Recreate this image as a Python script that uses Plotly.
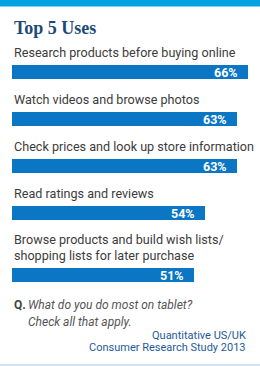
import plotly.graph_objects as go

title = "Top 5 Uses"
categories = [
    "Research products before buying online",
    "Watch videos and browse photos",
    "Check prices and look up store information",
    "Read ratings and reviews",
    "Browse products and build wish lists/<br>shopping lists for later purchase",
]
values = [66, 63, 63, 54, 51]
question_label = "Q."
question_lines = ["What do you do most on tablet?", "Check all that apply."]
source_lines = ["Quantitative US/UK", "Consumer Research Study 2013"]

W, H = 260, 366
LEFT, RIGHT = 12, 12
BAR_COLOR = "#0a76c4"
STRIP_COLOR = "#00a3e0"
TITLE_COLOR = "#1d4a78"
LABEL_COLOR = "#3c3c3c"
SRC_COLOR = "#1f5a9a"
FONT = "Roboto, Arial, sans-serif"

# layout of rows (pixel positions computed from label line counts)
first_bar_top = 65
step = 47
extra_line = 15
bar_h = 14
label_gap = 13  # label centre above bar top

bar_centers, label_centers = [], []
offset = 0
for cat in categories:
    n_lines = cat.count("<br>") + 1
    offset_lines = (n_lines - 1) * extra_line
    top = first_bar_top + offset + offset_lines
    bar_centers.append(top + bar_h / 2)
    label_centers.append(top - label_gap - offset_lines / 2)
    offset += step + offset_lines

fig = go.Figure()
fig.add_trace(go.Bar(
    x=values, y=bar_centers, orientation="h",
    width=bar_h, marker=dict(color=BAR_COLOR, line=dict(width=0)),
    hoverinfo="skip",
))

ann = []
for cat, yc in zip(categories, label_centers):
    ann.append(dict(text=cat, x=0, xref="paper", y=yc, yref="y", xanchor="left",
                    yanchor="middle", showarrow=False, align="left",
                    font=dict(family=FONT, size=12.6, color=LABEL_COLOR)))
for v, yc in zip(values, bar_centers):
    ann.append(dict(text=f"<b>{v}%</b>", x=v, xref="x", y=yc + 0.5, yref="y", xanchor="right",
                    yanchor="middle", showarrow=False, xshift=-8,
                    font=dict(family="Roboto, sans-serif", size=12.5, color="white")))
ann.append(dict(text=f"<b>{title}</b>", x=0, xref="paper", y=28, yref="y", xanchor="left",
                yanchor="middle", showarrow=False,
                font=dict(family="Liberation Serif, serif", size=18, color=TITLE_COLOR)))
ann.append(dict(text=f"<b>{question_label}</b>", x=0, xref="paper", y=305, yref="y",
                xanchor="left", yanchor="middle", showarrow=False,
                font=dict(family=FONT, size=12, color="#444444")))
for i, line in enumerate(question_lines):
    ann.append(dict(text=f"<i>{line}</i>", x=14 / (W - LEFT - RIGHT), xref="paper",
                    y=305 + i * 16.5, yref="y", xanchor="left", yanchor="middle",
                    showarrow=False, font=dict(family=FONT, size=12, color="#555555")))
for i, line in enumerate(source_lines):
    ann.append(dict(text=line, x=1, xref="paper", y=335.5 + i * 11.5, yref="y",
                    xanchor="right", yanchor="middle", showarrow=False,
                    font=dict(family=FONT, size=11, color=SRC_COLOR)))

pw = W - LEFT - RIGHT
shapes = [
    dict(type="rect", xref="paper", yref="y", x0=-LEFT / pw, x1=1 + RIGHT / pw,
         y0=0, y1=6.5, fillcolor=STRIP_COLOR, line=dict(width=0), layer="below"),
    dict(type="rect", xref="paper", yref="y", x0=-LEFT / pw, x1=1 + RIGHT / pw,
         y0=364, y1=366, fillcolor="#d4e5f1", line=dict(width=0), layer="below"),
]

fig.update_layout(
    width=W, height=H,
    margin=dict(l=LEFT, r=RIGHT, t=0, b=0, pad=0),
    paper_bgcolor="white", plot_bgcolor="white",
    showlegend=False,
    xaxis=dict(range=[0, max(values)], visible=False, fixedrange=True),
    yaxis=dict(range=[H, 0], visible=False, fixedrange=True),
    annotations=ann, shapes=shapes,
    bargap=0,
)
fig.write_html("out.html", config={"displayModeBar": False})
